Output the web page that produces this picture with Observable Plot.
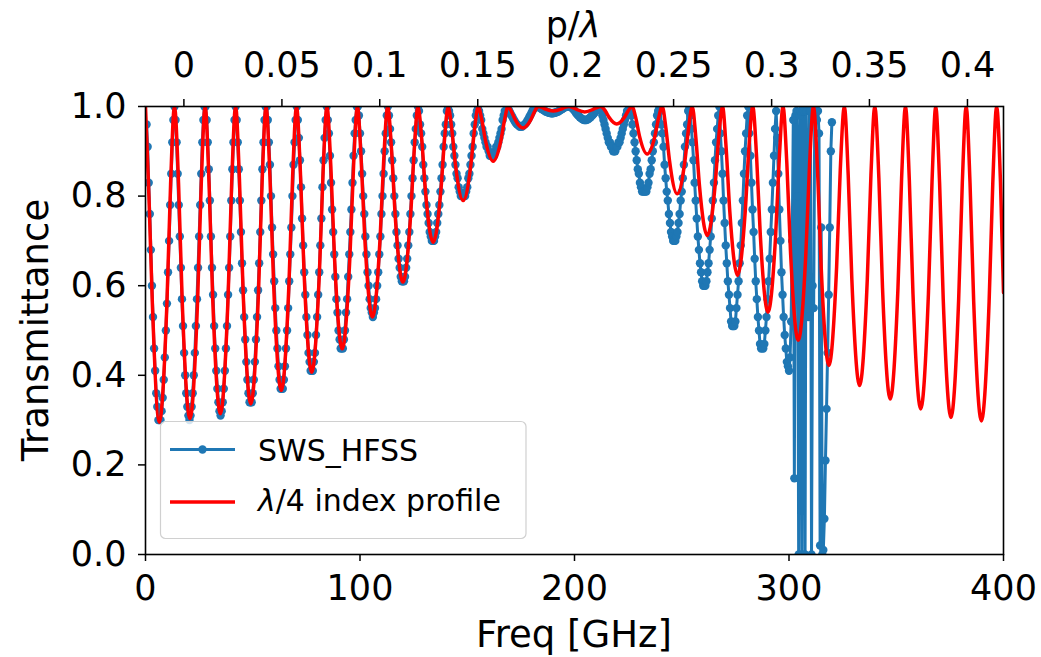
<!DOCTYPE html>
<html><head><meta charset="utf-8">
<script src="https://cdn.jsdelivr.net/npm/d3@7"></script>
<script src="https://cdn.jsdelivr.net/npm/@observablehq/plot@0.6"></script>
<style>html,body{margin:0;padding:0;background:#fff;} #chart{width:1041px;height:657px;overflow:hidden;}</style>
</head><body><div id="chart"></div>
<script>
const xTicks = [0, 100, 200, 300, 400];
const yTicks = [0, 0.2, 0.4, 0.6, 0.8, 1.0];
const topTickFreq = [17.9, 63.6, 109.2, 154.9, 200.5, 246.2, 291.9, 337.5, 383.2];
const topTickLabels = ["0", "0.05", "0.1", "0.15", "0.2", "0.25", "0.3", "0.35", "0.4"];

// λ/4 index profile (red), read at peaks, shoulders and troughs
const redFreq = [0, 1.6, 3.2, 6.4, 10.0, 11.7, 13.5,
 15.4, 17.1, 20.7, 24.3, 26.0, 27.8,
 29.6, 31.3, 34.9, 38.5, 40.2, 42.0,
 43.8, 45.5, 49.1, 52.7, 54.4, 56.2,
 58.0, 59.7, 63.3, 66.9, 68.6, 70.4,
 72.2, 73.9, 77.5, 81.1, 82.8, 84.6,
 86.4, 88.1, 91.7, 95.3, 97.0, 98.8,
 100.5, 102.2, 105.8, 109.4, 111.1, 112.9,
 114.7, 116.4, 120.0, 123.6, 125.3, 127.0,
 128.8, 130.5, 134.1, 137.7, 139.4, 141.1,
 142.8, 144.5, 148.1, 151.7, 153.4, 155.1,
 156.8, 158.5, 162.1, 165.7, 167.4, 169.0,
 170.7, 172.4, 176.0, 179.6, 181.3, 183.0,
 184.8, 186.5, 190.1, 193.7, 195.4, 197.4,
 199.5, 201.2, 204.8, 208.4, 210.1, 212.2,
 214.4, 216.1, 219.7, 223.3, 225.0, 226.8,
 228.6, 230.3, 233.9, 237.5, 239.2, 240.9,
 242.6, 244.3, 247.9, 251.5, 253.2, 254.9,
 256.6, 258.3, 261.9, 265.5, 267.2, 269.0,
 270.7, 272.4, 276.0, 279.6, 281.3, 283.1,
 284.9, 286.6, 290.2, 293.8, 295.5, 297.2,
 299.0, 300.7, 304.3, 307.9, 309.6, 311.4,
 313.3, 315.0, 318.6, 322.2, 323.9, 325.8,
 327.6, 329.3, 332.9, 336.5, 338.2, 340.0,
 341.9, 343.6, 347.2, 350.8, 352.5, 354.3,
 356.1, 357.8, 361.4, 365.0, 366.7, 368.4,
 370.2, 371.9, 375.5, 379.1, 380.8, 382.6,
 384.4, 386.1, 389.7, 393.3, 395.0, 396.8,
 398.6, 400];
const redTrans = [1.0, 0.80, 0.56, 0.295, 0.563, 0.827, 1,
 0.829, 0.568, 0.303, 0.568, 0.829, 1,
 0.832, 0.575, 0.314, 0.575, 0.832, 1,
 0.837, 0.588, 0.336, 0.588, 0.837, 1,
 0.845, 0.607, 0.366, 0.607, 0.845, 1,
 0.855, 0.632, 0.407, 0.632, 0.855, 1,
 0.867, 0.665, 0.459, 0.665, 0.867, 1,
 0.885, 0.709, 0.530, 0.709, 0.885, 1,
 0.904, 0.757, 0.608, 0.757, 0.904, 1,
 0.926, 0.812, 0.697, 0.812, 0.926, 1,
 0.949, 0.870, 0.790, 0.870, 0.949, 1,
 0.970, 0.924, 0.878, 0.924, 0.970, 1,
 0.988, 0.970, 0.952, 0.970, 0.988, 1,
 0.998, 0.994, 0.990, 0.994, 0.998, 1,
 0.997, 0.993, 0.988, 0.993, 0.997, 1,
 0.990, 0.976, 0.961, 0.976, 0.990, 1,
 0.974, 0.934, 0.894, 0.934, 0.974, 1,
 0.952, 0.879, 0.805, 0.879, 0.952, 1,
 0.929, 0.821, 0.712, 0.821, 0.929, 1,
 0.907, 0.766, 0.623, 0.766, 0.907, 1,
 0.887, 0.715, 0.541, 0.715, 0.887, 1,
 0.872, 0.676, 0.478, 0.676, 0.872, 1,
 0.858, 0.642, 0.422, 0.642, 0.858, 1,
 0.847, 0.614, 0.377, 0.614, 0.847, 1,
 0.840, 0.595, 0.347, 0.595, 0.840, 1,
 0.835, 0.582, 0.325, 0.582, 0.835, 1,
 0.830, 0.570, 0.306, 0.570, 0.830, 1,
 0.828, 0.565, 0.298, 0.565, 0.828, 1,
 0.83, 0.585];

// SWS_HFSS (blue), sampled every 0.5 GHz
const blueFreq = [
 0.5,1,1.5,2,2.5,3,3.5,4,4.5,5,5.5,6,6.5,7,7.5,8,8.5,9,9.5,10,
 10.5,11,11.5,12,12.5,13,13.5,14,14.5,15,15.5,16,16.5,17,17.5,18,18.5,19,19.5,20,
 20.5,21,21.5,22,22.5,23,23.5,24,24.5,25,25.5,26,26.5,27,27.5,28,28.5,29,29.5,30,
 30.5,31,31.5,32,32.5,33,33.5,34,34.5,35,35.5,36,36.5,37,37.5,38,38.5,39,39.5,40,
 40.5,41,41.5,42,42.5,43,43.5,44,44.5,45,45.5,46,46.5,47,47.5,48,48.5,49,49.5,50,
 50.5,51,51.5,52,52.5,53,53.5,54,54.5,55,55.5,56,56.5,57,57.5,58,58.5,59,59.5,60,
 60.5,61,61.5,62,62.5,63,63.5,64,64.5,65,65.5,66,66.5,67,67.5,68,68.5,69,69.5,70,
 70.5,71,71.5,72,72.5,73,73.5,74,74.5,75,75.5,76,76.5,77,77.5,78,78.5,79,79.5,80,
 80.5,81,81.5,82,82.5,83,83.5,84,84.5,85,85.5,86,86.5,87,87.5,88,88.5,89,89.5,90,
 90.5,91,91.5,92,92.5,93,93.5,94,94.5,95,95.5,96,96.5,97,97.5,98,98.5,99,99.5,100,
 100.5,101,101.5,102,102.5,103,103.5,104,104.5,105,105.5,106,106.5,107,107.5,108,108.5,109,109.5,110,
 110.5,111,111.5,112,112.5,113,113.5,114,114.5,115,115.5,116,116.5,117,117.5,118,118.5,119,119.5,120,
 120.5,121,121.5,122,122.5,123,123.5,124,124.5,125,125.5,126,126.5,127,127.5,128,128.5,129,129.5,130,
 130.5,131,131.5,132,132.5,133,133.5,134,134.5,135,135.5,136,136.5,137,137.5,138,138.5,139,139.5,140,
 140.5,141,141.5,142,142.5,143,143.5,144,144.5,145,145.5,146,146.5,147,147.5,148,148.5,149,149.5,150,
 150.5,151,151.5,152,152.5,153,153.5,154,154.5,155,155.5,156,156.5,157,157.5,158,158.5,159,159.5,160,
 160.5,161,161.5,162,162.5,163,163.5,164,164.5,165,165.5,166,166.5,167,167.5,168,168.5,169,169.5,170,
 170.5,171,171.5,172,172.5,173,173.5,174,174.5,175,175.5,176,176.5,177,177.5,178,178.5,179,179.5,180,
 180.5,181,181.5,182,182.5,183,183.5,184,184.5,185,185.5,186,186.5,187,187.5,188,188.5,189,189.5,190,
 190.5,191,191.5,192,192.5,193,193.5,194,194.5,195,195.5,196,196.5,197,197.5,198,198.5,199,199.5,200,
 200.5,201,201.5,202,202.5,203,203.5,204,204.5,205,205.5,206,206.5,207,207.5,208,208.5,209,209.5,210,
 210.5,211,211.5,212,212.5,213,213.5,214,214.5,215,215.5,216,216.5,217,217.5,218,218.5,219,219.5,220,
 220.5,221,221.5,222,222.5,223,223.5,224,224.5,225,225.5,226,226.5,227,227.5,228,228.5,229,229.5,230,
 230.5,231,231.5,232,232.5,233,233.5,234,234.5,235,235.5,236,236.5,237,237.5,238,238.5,239,239.5,240,
 240.5,241,241.5,242,242.5,243,243.5,244,244.5,245,245.5,246,246.5,247,247.5,248,248.5,249,249.5,250,
 250.5,251,251.5,252,252.5,253,253.5,254,254.5,255,255.5,256,256.5,257,257.5,258,258.5,259,259.5,260,
 260.5,261,261.5,262,262.5,263,263.5,264,264.5,265,265.5,266,266.5,267,267.5,268,268.5,269,269.5,270,
 270.5,271,271.5,272,272.5,273,273.5,274,274.5,275,275.5,276,276.5,277,277.5,278,278.5,279,279.5,280,
 280.5,281,281.5,282,282.5,283,283.5,284,284.5,285,285.5,286,286.5,287,287.5,288,288.5,289,289.5,290,
 290.5,291,291.5,292,292.5,293,293.5,294,294.5,295,295.5,296,296.5,297,297.5,298,298.5,299,299.5,300,
 300.5,301,301.5,302,302.5,303,303.5,304,304.5,305,305.5,306,306.5,307,307.5,308,308.5,309,309.5,310,
 310.5,311,311.5,312,312.5,313,313.5,314,314.5,315,315.5,316,316.5,317,317.5,318,318.5,319,319.5,320];
const blueTrans = [
 .96,.91,.83,.76,.68,.60,.53,.46,.41,.36,.33,.30,.30,.30,.32,.35,.39,.44,.50,.56,
 .63,.70,.78,.85,.92,.97,1.0,.97,.92,.85,.78,.71,.64,.57,.51,.45,.40,.36,.33,.31,
 .30,.31,.33,.36,.40,.45,.51,.57,.64,.71,.78,.85,.92,.97,1.0,1.0,.97,.92,.86,.79,
 .71,.64,.58,.51,.46,.41,.37,.34,.32,.31,.32,.34,.37,.41,.46,.51,.58,.64,.71,.79,
 .86,.92,.97,1.0,.97,.92,.86,.79,.72,.65,.59,.53,.48,.43,.39,.36,.34,.34,.34,.36,
 .39,.43,.48,.53,.59,.65,.72,.79,.86,.92,.97,1.0,1.0,.97,.92,.87,.80,.73,.67,.61,
 .55,.50,.46,.42,.39,.37,.37,.37,.39,.42,.46,.50,.55,.61,.67,.73,.80,.87,.92,.97,
 1.0,.97,.93,.88,.82,.75,.69,.63,.58,.53,.49,.45,.43,.41,.41,.41,.43,.45,.49,.53,
 .58,.63,.69,.75,.82,.88,.93,.97,1.0,.97,.94,.89,.83,.77,.72,.67,.62,.57,.54,.50,
 .48,.46,.46,.46,.48,.50,.54,.57,.62,.67,.72,.77,.83,.89,.94,.97,1.0,1.0,.98,.94,
 .90,.85,.80,.76,.71,.67,.63,.60,.57,.55,.54,.53,.54,.55,.57,.60,.63,.67,.71,.76,
 .80,.85,.90,.94,.98,1.0,.98,.95,.92,.88,.84,.80,.76,.72,.69,.66,.64,.62,.61,.61,
 .61,.62,.64,.66,.69,.72,.76,.80,.84,.88,.92,.95,.98,1.0,.99,.96,.94,.91,.87,.84,
 .81,.78,.76,.74,.72,.71,.70,.70,.70,.71,.72,.74,.76,.78,.81,.84,.87,.91,.94,.96,
 .99,1.0,.99,.98,.96,.94,.91,.89,.87,.85,.84,.82,.81,.80,.80,.80,.80,.80,.81,.82,
 .84,.85,.87,.89,.91,.94,.96,.98,.99,1.0,.99,.98,.97,.95,.94,.93,.92,.91,.91,.90,
 .89,.89,.89,.89,.89,.90,.91,.91,.92,.93,.94,.95,.97,.98,.99,.99,1.0,.995,.991,.986,
 .981,.977,.972,.968,.964,.961,.959,.957,.955,.955,.955,.957,.959,.961,.964,.968,.972,.977,.981,.986,
 .991,.995,.998,1.0,1.0,.999,.998,.997,.995,.994,.992,.991,.989,.988,.987,.986,.986,.985,.985,.985,
 .986,.986,.987,.988,.989,.991,.992,.994,.995,.997,.998,.999,1.0,1.0,1.0,1.0,.999,.996,.994,.991,
 .987,.984,.981,.979,.976,.974,.972,.971,.970,.970,.970,.971,.972,.974,.976,.979,.981,.984,.987,.991,
 .994,.996,.999,1.0,.99,.98,.97,.96,.95,.94,.93,.92,.92,.91,.91,.90,.90,.90,.91,.91,
 .92,.92,.93,.94,.95,.96,.97,.98,.99,.99,1.0,.99,.98,.96,.94,.92,.90,.88,.86,.85,
 .83,.82,.81,.81,.81,.81,.81,.82,.83,.85,.86,.88,.90,.92,.94,.96,.98,.99,1.0,.99,
 .96,.94,.91,.87,.84,.81,.79,.76,.74,.72,.71,.70,.70,.70,.71,.72,.74,.76,.79,.81,
 .84,.87,.91,.94,.96,.99,1.0,.98,.95,.92,.88,.83,.79,.75,.71,.68,.65,.63,.61,.60,
 .60,.60,.61,.63,.65,.68,.71,.75,.79,.83,.88,.92,.95,.98,1.0,.94,.90,.85,.79,.74,
 .69,.65,.61,.58,.55,.52,.51,.51,.51,.52,.55,.58,.61,.65,.69,.74,.79,.85,.90,.94,
 .98,1.0,.94,.89,.83,.77,.72,.66,.61,.57,.53,.50,.47,.46,.46,.46,.47,.50,.53,.57,
 .61,.66,.72,.77,.83,.89,.95,.99,.93,.85,.77,.70,.63,.58,.53,.49,.46,.43,.42,.41,
 .44,.52,.70,.97,.17,.98,.99,.80,0,.98,.99,0,.99,.99,0,.99,.62,.53,.99,.99,
 0,.60,.55,.98,.99,.97,.99,.94,.02,.73,0,.01,.08,.21,.325,.45,.58,.73,.90,.965];

const red = redFreq.map((f, i) => ({f, t: redTrans[i]}));
const blue = blueFreq.map((f, i) => ({f, t: blueTrans[i]}));
const topLabel = new Map(topTickFreq.map((f, i) => [f, topTickLabels[i]]));

const BLUE = "#1f77b4", RED = "#ff0000";

const svg = Plot.plot({
  width: 1041, height: 657,
  marginLeft: 145, marginRight: 38, marginTop: 106, marginBottom: 103,
  x: {domain: [0, 400]},
  y: {domain: [0, 1]},
  style: {fontFamily: "DejaVu Sans", fontSize: "35px", color: "#000", background: "#fff"},
  marks: [
    Plot.line(blue, {x: "f", y: "t", stroke: BLUE, strokeWidth: 3, clip: true}),
    Plot.dot(blue, {x: "f", y: "t", r: 4.2, fill: BLUE, stroke: "none", clip: true}),
    Plot.line(red, {x: "f", y: "t", stroke: RED, strokeWidth: 3.5, curve: "monotone-x", clip: true}),
    Plot.frame({stroke: "#000", strokeWidth: 1.6}),
    Plot.axisY({ticks: yTicks, tickFormat: d3.format(".1f"), tickSize: 7, tickPadding: 12, strokeWidth: 1.5, label: null}),
    Plot.axisX({anchor: "bottom", ticks: xTicks, tickFormat: d => String(d), tickSize: 7, tickPadding: 14, strokeWidth: 1.5, label: null}),
    Plot.axisX({anchor: "top", ticks: topTickFreq, tickFormat: d => topLabel.get(d), tickSize: 8, tickPadding: 22, strokeWidth: 1.5, label: null})
  ]
});
document.getElementById("chart").append(svg);

const s = d3.select(svg);
// axis titles
const pl = s.append("text").attr("x", 573).attr("y", 37).attr("text-anchor", "middle")
  .attr("font-family", "DejaVu Sans").attr("font-size", 35).attr("fill", "#000");
pl.append("tspan").text("p/");
pl.append("tspan").attr("font-style", "italic").text("λ");
s.append("text").attr("x", 574).attr("y", 647).attr("text-anchor", "middle")
  .attr("font-family", "DejaVu Sans").attr("font-size", 37).attr("fill", "#000").text("Freq [GHz]");
s.append("text").attr("transform", "translate(48,330) rotate(-90)").attr("text-anchor", "middle")
  .attr("font-family", "DejaVu Sans").attr("font-size", 37).attr("fill", "#000").text("Transmittance");

// legend
const lg = s.append("g");
lg.append("rect").attr("x", 160.5).attr("y", 421.5).attr("width", 365.5).attr("height", 117)
  .attr("rx", 5).attr("fill", "#fff").attr("fill-opacity", 0.8).attr("stroke", "#d0d0d0").attr("stroke-width", 1.2);
lg.append("line").attr("x1", 170).attr("x2", 235).attr("y1", 449.5).attr("y2", 449.5).attr("stroke", BLUE).attr("stroke-width", 3);
lg.append("circle").attr("cx", 202.5).attr("cy", 449.5).attr("r", 4.2).attr("fill", BLUE);
lg.append("line").attr("x1", 170).attr("x2", 235).attr("y1", 502).attr("y2", 502).attr("stroke", RED).attr("stroke-width", 3.5);
lg.append("text").attr("x", 258).attr("y", 461).attr("text-anchor", "start").attr("font-family", "DejaVu Sans").attr("font-size", 30).attr("fill", "#000").text("SWS_HFSS");
const l2 = lg.append("text").attr("x", 258).attr("y", 511).attr("text-anchor", "start").attr("font-family", "DejaVu Sans").attr("font-size", 30).attr("fill", "#000");
l2.append("tspan").attr("font-style", "italic").text("λ");
l2.append("tspan").text("/4 index profile");
</script>
</body></html>
